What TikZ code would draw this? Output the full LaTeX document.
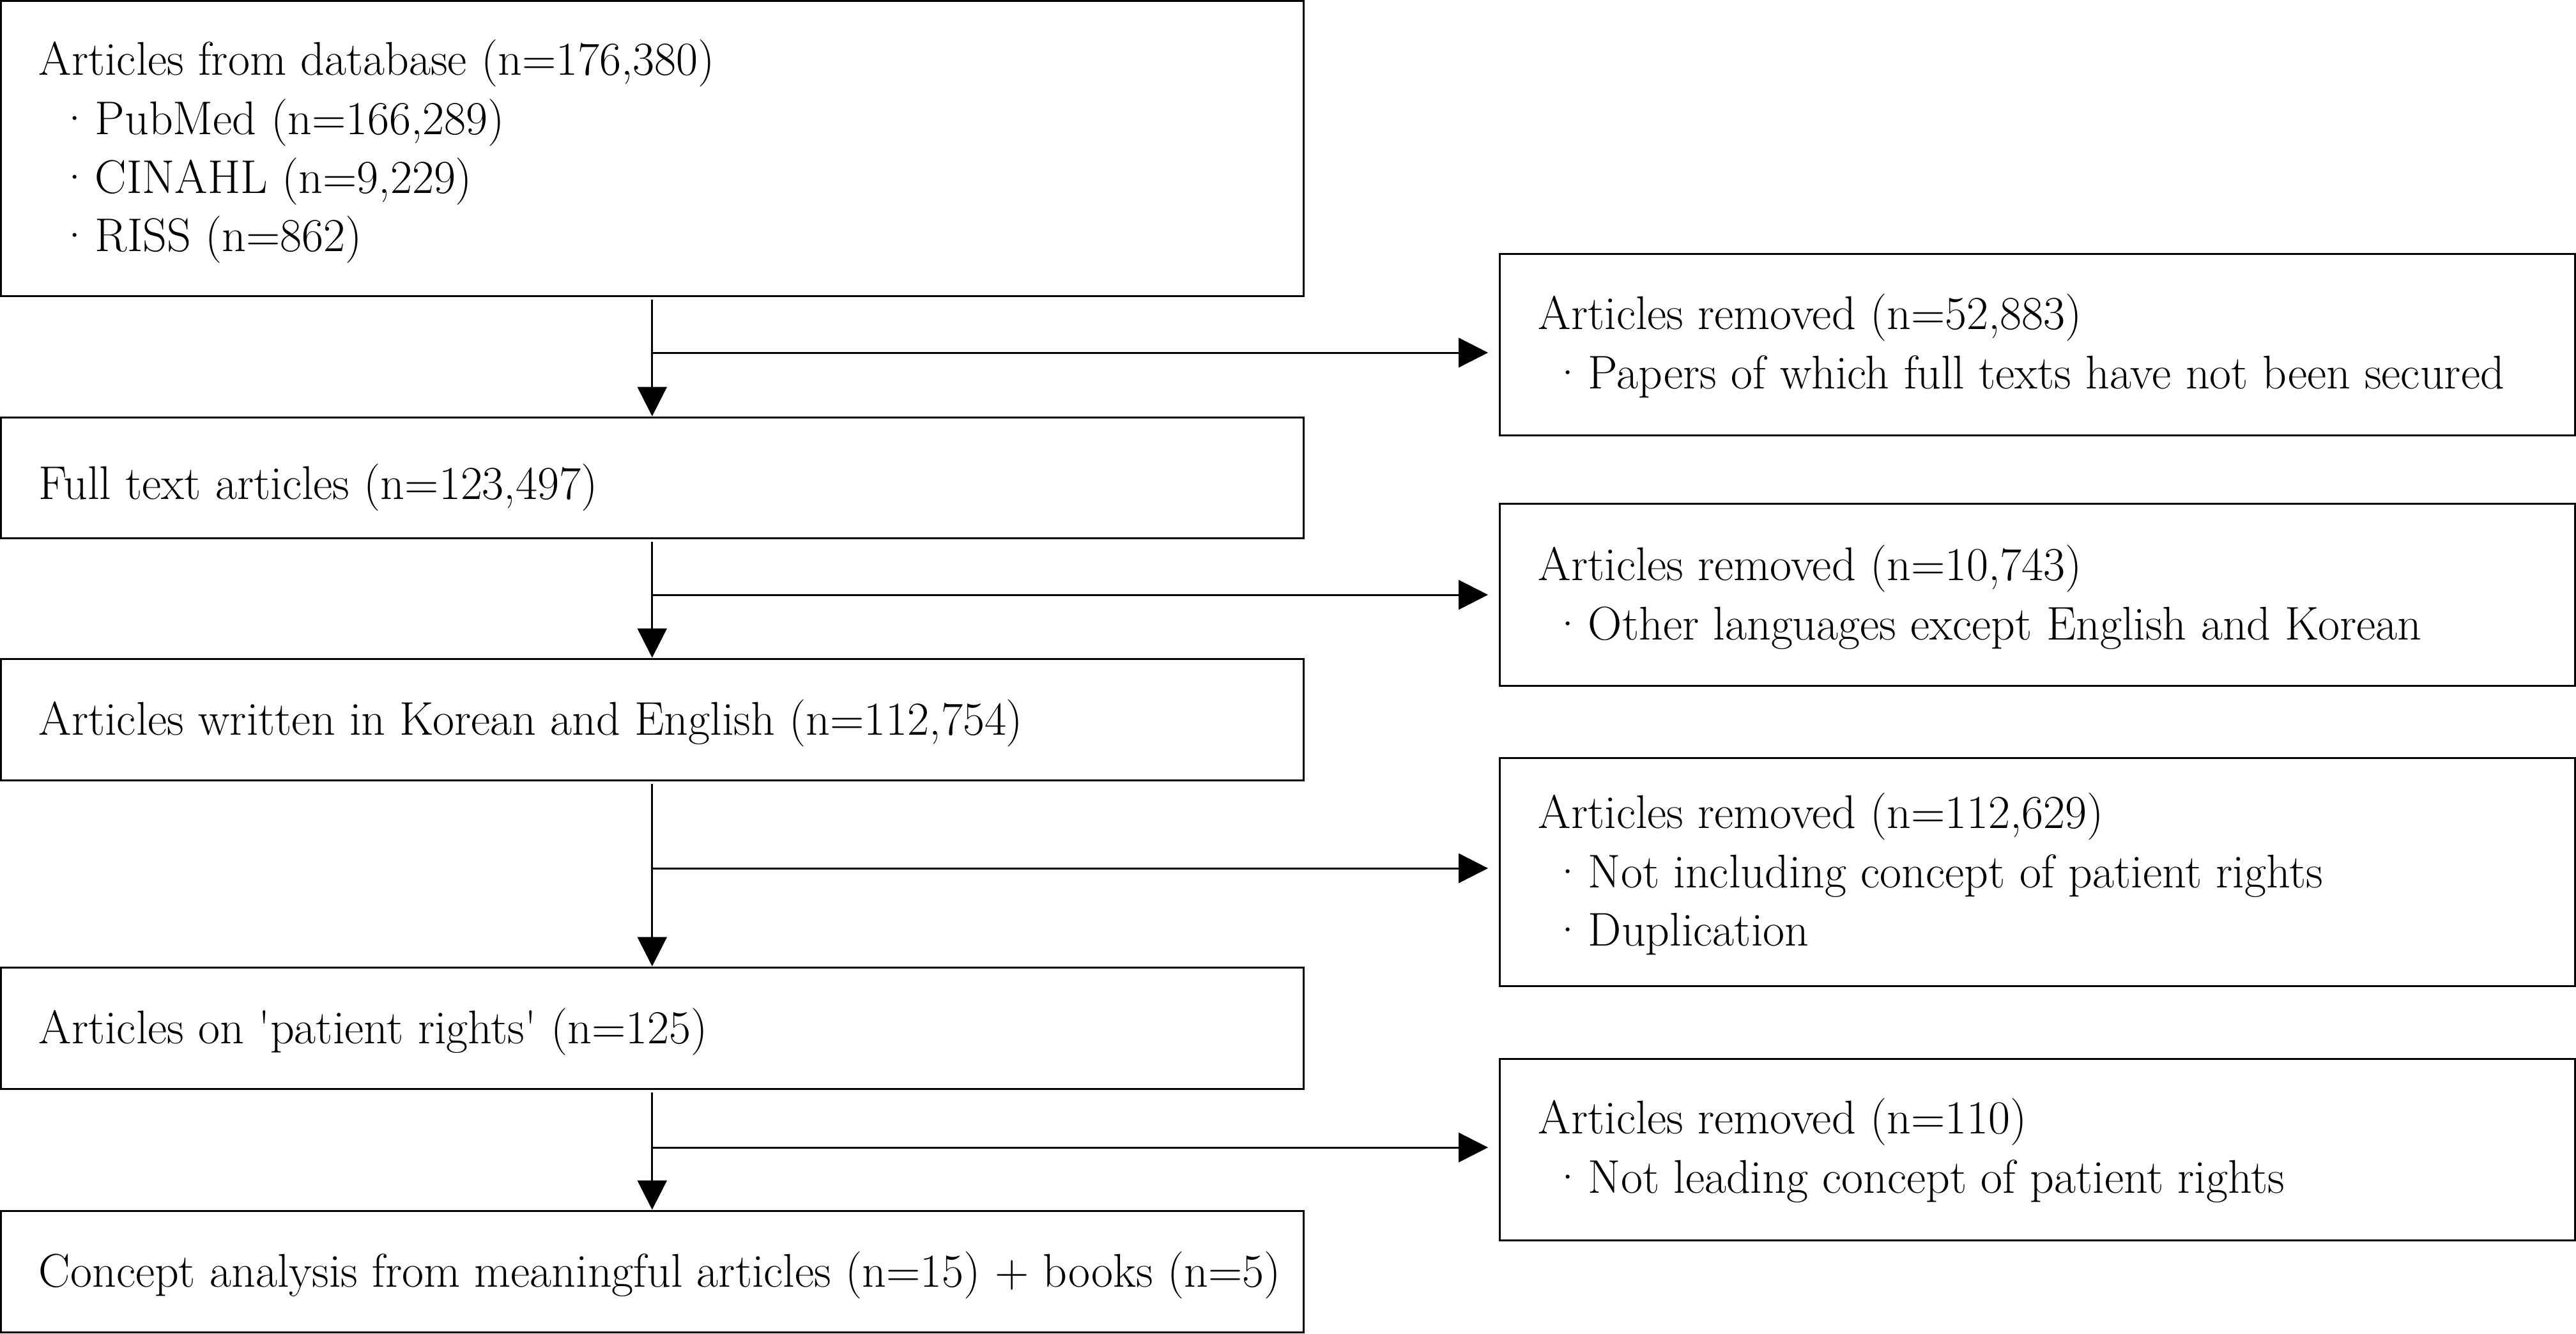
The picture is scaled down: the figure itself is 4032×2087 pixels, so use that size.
\documentclass[tikz,border=0pt]{standalone}
\usetikzlibrary{arrows.meta,fit}
\begin{document}
\begin{tikzpicture}[x=0.25pt,y=-0.25pt,
  box/.style={draw, line width=0.75pt, inner sep=0pt},
  txt/.style={anchor=base west, inner sep=0pt, font=\fontsize{18.5}{21}\selectfont},
  arr/.style={line width=0.75pt, -{Triangle[length=11.5pt,width=11.5pt]}},
  ]
\newcommand{\bul}{\textperiodcentered\kern1.2pt}
\useasboundingbox (0,0) rectangle (4032,2087);
% left column boxes
\node[box, fit={(1.5,1.5) (2040,463)}] (b1) {};
\node[box, fit={(1.5,653) (2040,842)}] (b2) {};
\node[box, fit={(1.5,1031) (2040,1221)}] (b3) {};
\node[box, fit={(1.5,1514) (2040,1704)}] (b4) {};
\node[box, fit={(1.5,1895) (2040,2085)}] (b5) {};
% right column boxes
\node[box, fit={(2347,397) (4030,681)}] (r1) {};
\node[box, fit={(2347,788) (4030,1073)}] (r2) {};
\node[box, fit={(2347,1186) (4030,1543)}] (r3) {};
\node[box, fit={(2347,1657) (4030,1941)}] (r4) {};
% texts
\node[txt] (t1) at (60,118) {Articles from database (n=176,380)};
\node[txt] (t1a) at (90,210) {\bul PubMed (n=166,289)};
\node[txt] (t1b) at (90,302) {\bul CINAHL (n=9,229)};
\node[txt] (t1c) at (90,393) {\bul RISS (n=862)};
\node[txt] (t2) at (60,781) {Full text articles (n=123,497)};
\node[txt] (t3) at (60,1150) {Articles written in Korean and English (n=112,754)};
\node[txt] (t4) at (60,1633) {Articles on \textquotesingle patient rights\textquotesingle{} (n=125)};
\node[txt] (t5) at (60,2014) {Concept analysis from meaningful articles (n=15) + books (n=5)};
\node[txt] (s1) at (2407,515) {Articles removed (n=52,883)};
\node[txt] (s1a) at (2427,608) {\bul Papers of which full texts have not been secured};
\node[txt] (s2) at (2407,908) {Articles removed (n=10,743)};
\node[txt] (s2a) at (2427,1001) {\bul Other languages except English and Korean};
\node[txt] (s3) at (2407,1296) {Articles removed (n=112,629)};
\node[txt] (s3a) at (2427,1389) {\bul Not including concept of patient rights};
\node[txt] (s3b) at (2427,1480) {\bul Duplication};
\node[txt] (s4) at (2407,1774) {Articles removed (n=110)};
\node[txt] (s4a) at (2427,1867) {\bul Not leading concept of patient rights};
% vertical arrows
\draw[arr, shorten <=1.2pt] (b1.south) -- (b2.north);
\draw[arr, shorten <=1.2pt] (b2.south) -- (b3.north);
\draw[arr, shorten <=1.2pt] (b3.south) -- (b4.north);
\draw[arr, shorten <=1.2pt] (b4.south) -- (b5.north);
% branch arrows
\coordinate (j1) at (b1.south |- 0,552);
\coordinate (j2) at (b1.south |- 0,931);
\coordinate (j3) at (b1.south |- 0,1359);
\coordinate (j4) at (b1.south |- 0,1796);
\draw[arr, shorten >=4.1pt] (j1) -- (j1 -| r1.west);
\draw[arr, shorten >=4.1pt] (j2) -- (j2 -| r2.west);
\draw[arr, shorten >=4.1pt] (j3) -- (j3 -| r3.west);
\draw[arr, shorten >=4.1pt] (j4) -- (j4 -| r4.west);
\end{tikzpicture}
\end{document}
